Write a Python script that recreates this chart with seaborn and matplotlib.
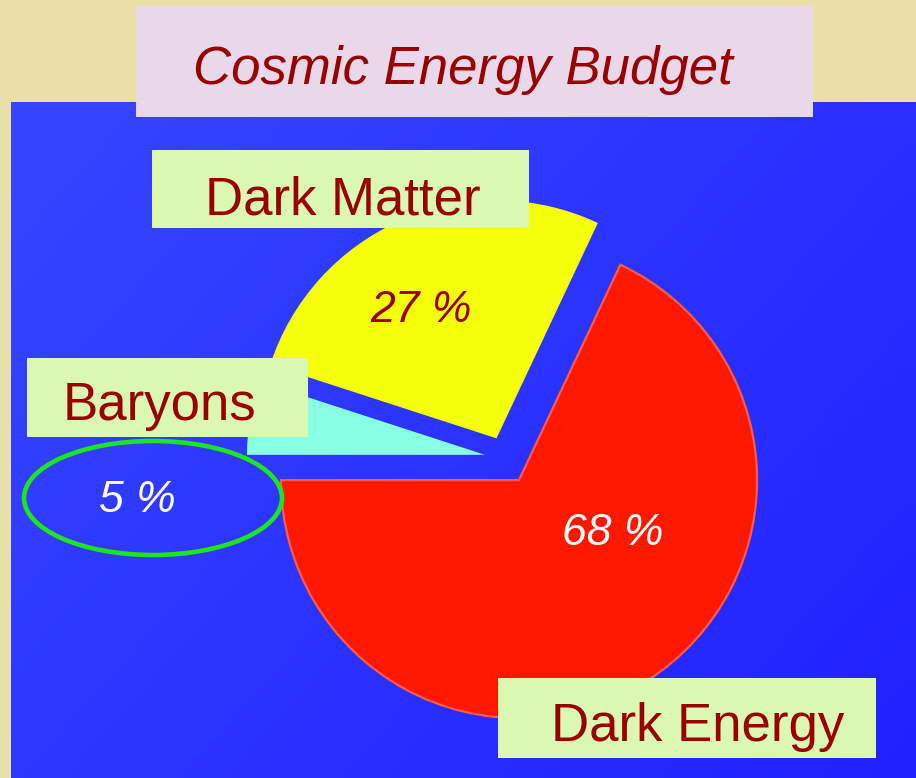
import numpy as np
import matplotlib
matplotlib.use("Agg")
import matplotlib.pyplot as plt
import seaborn as sns
from matplotlib.patches import Rectangle, Ellipse

# Data
components = ["Dark Energy", "Dark Matter", "Baryons"]
shares = [68, 27, 5]
colors = ["#ff1800", "#f5ff0a", "#88ffe2"]
explode = [0.11, 0.09, 0.085]

sns.set_theme(style="white")
plt.rcParams["font.family"] = ["Liberation Sans", "DejaVu Sans"]

W, H = 916, 778
R = 238
fig = plt.figure(figsize=(W / 100, H / 100), dpi=100, facecolor="#ebdfa8")
ax = fig.add_axes([0, 0, 1, 1])
ax.set_facecolor("#ebdfa8")


def Y(y):
    # image-style y (from top) to data y
    return H - y


# blue gradient panel
gx, gy = np.meshgrid(np.linspace(0, 1, 60), np.linspace(0, 1, 60))
t = (gx * 0.6 + gy * 0.4)
top = np.array([0x36, 0x46, 0xff]) / 255
bot = np.array([0x21, 0x21, 0xff]) / 255
grad = top[None, None, :] * (1 - t[..., None]) + bot[None, None, :] * t[..., None]
ax.imshow(grad, extent=(11, W, Y(H), Y(102)), origin="upper", zorder=0,
          interpolation="bilinear")

# pie (explode is in data units, so scale by radius)
wedges, _ = ax.pie(shares, colors=colors, explode=[e * R for e in explode],
                   startangle=180, counterclock=True, center=(505, Y(458)),
                   radius=R, wedgeprops=dict(linewidth=0), frame=True)
wedges[0].set_edgecolor("#ff5a48")
wedges[0].set_linewidth(1.6)
for w in wedges:
    w.set_zorder(2)

# title box
ax.add_patch(Rectangle((136, Y(117)), 677, 111, facecolor="#e8d8ea",
                       edgecolor="none", zorder=3))
ax.text(193, Y(84), "Cosmic Energy Budget", fontsize=38, style="italic",
        color="#990000", va="baseline", ha="left", zorder=4)

# label boxes
boxes = {
    "Dark Matter": ((152, 150, 377, 78), (205, 214)),
    "Baryons": ((27, 358, 281, 79), (63, 420)),
    "Dark Energy": ((498, 678, 378, 80), (551, 741)),
}
for name in components:
    (bx, by, bw, bh), (tx, ty) = boxes[name]
    ax.add_patch(Rectangle((bx, Y(by + bh)), bw, bh, facecolor="#daf8b2",
                           edgecolor="none", zorder=3))
    ax.text(tx, Y(ty), name, fontsize=38, color="#990000", va="baseline",
            ha="left", zorder=4)

# percentages
pct_pos = {"Dark Energy": (613, 545, "white"),
           "Dark Matter": (421, 322, "#990000"),
           "Baryons": (137, 512, "white")}
for name, v in zip(components, shares):
    px, py, c = pct_pos[name]
    ax.text(px, Y(py), f"{v} %", fontsize=32, style="italic", color=c,
            ha="center", va="baseline", zorder=4)

ax.add_patch(Ellipse((153, Y(498)), 258, 114, facecolor="none",
                     edgecolor="#1ee61e", linewidth=3.3, zorder=4))

ax.set_xlim(0, W)
ax.set_ylim(0, H)
ax.set_aspect("auto")
ax.axis("off")

plt.savefig("out.png", dpi=100, facecolor=fig.get_facecolor())
